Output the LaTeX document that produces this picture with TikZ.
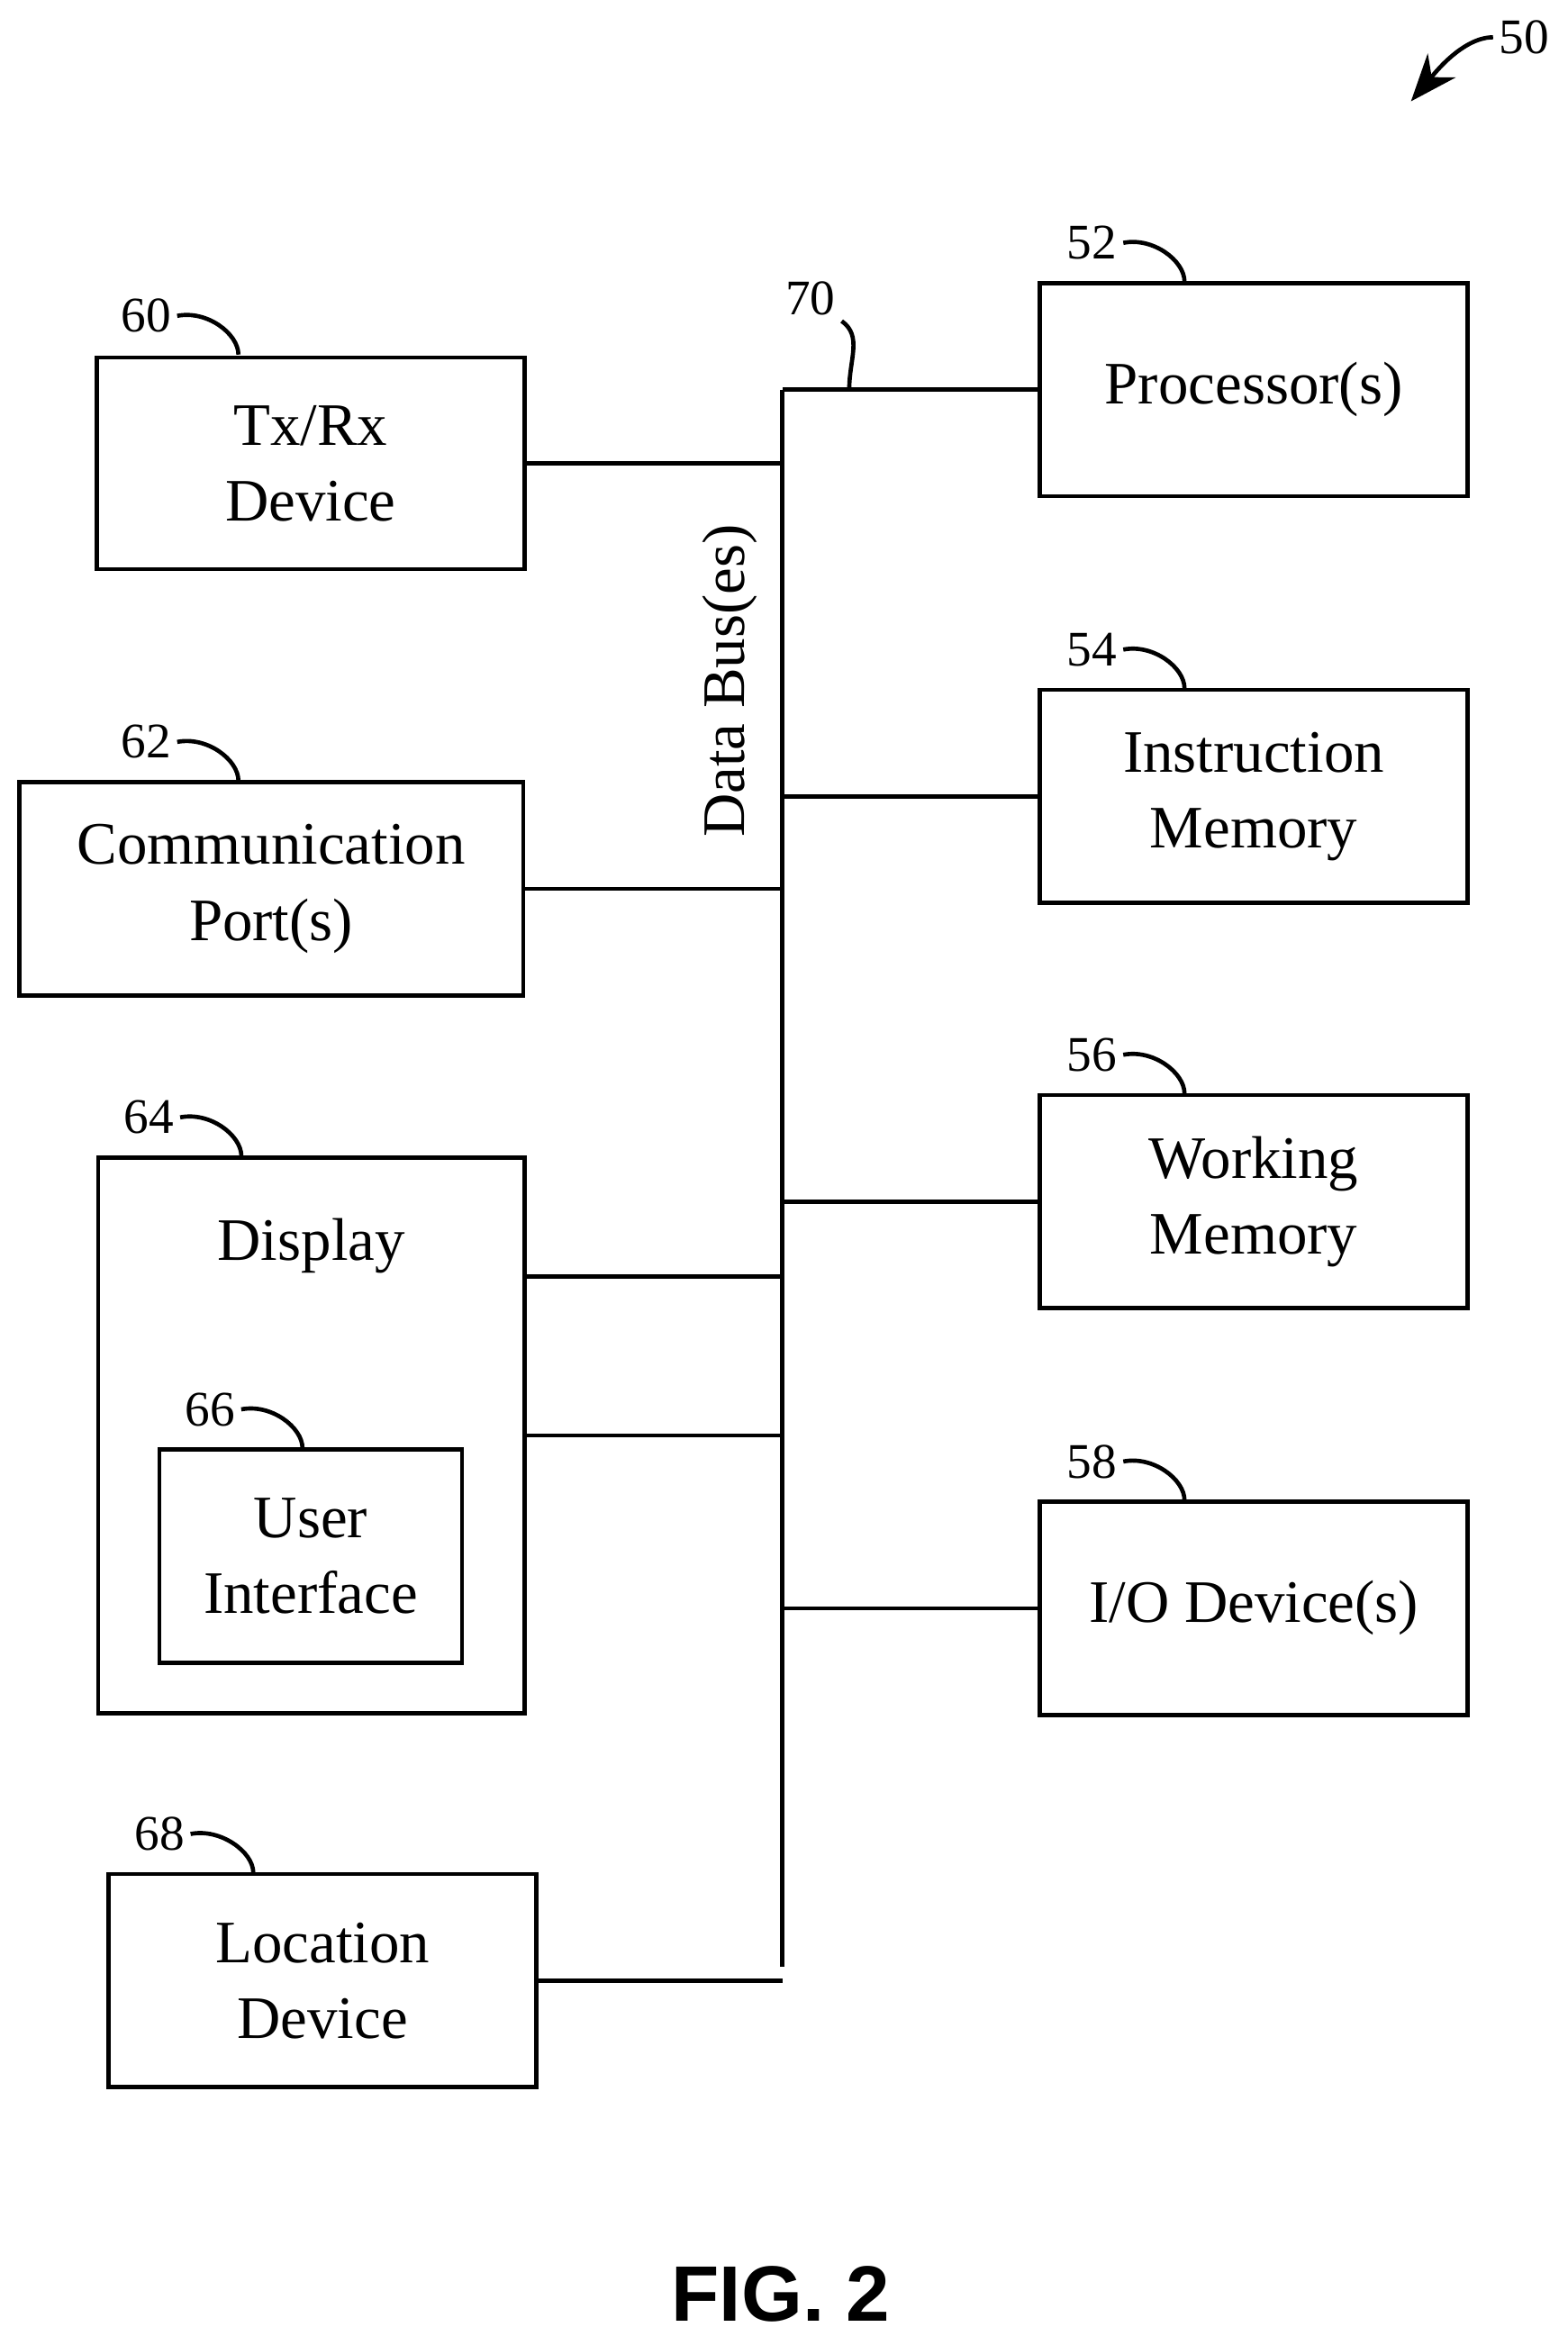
\documentclass[tikz,border=0pt]{standalone}
\usepackage{fontspec}
\setmainfont{Liberation Serif}
\newfontfamily\figfont{Liberation Sans}
\usetikzlibrary{arrows.meta}
\tikzset{
  blk/.style={draw,thick,align=center,font=\fontsize{11.5}{14.5}\selectfont,inner sep=0pt},
  ref/.style={font=\fontsize{9.5}{11}\selectfont,inner sep=1pt},
  lead/.style={thick},
  bus/.style={thick}
}
\begin{document}
\begin{tikzpicture}[x=0.01cm,y=-0.01cm]
\useasboundingbox (0,0) rectangle (1052,1568);

% left column
\node[blk,minimum width=2.87cm,minimum height=1.42cm] (txrx) at (208.5,311) {Tx/Rx\\Device};
\node[blk,minimum width=3.38cm,minimum height=1.43cm] (comm) at (182,596.5) {Communication\\Port(s)};
\node[blk,minimum width=2.86cm,minimum height=3.73cm] (disp) at (209,963.5) {};
\node[blk,draw=none] (disptxt) at (209,836) {Display};
\node[blk,minimum width=2.03cm,minimum height=1.43cm] (ui) at (208.5,1044.5) {User\\Interface};
\node[blk,minimum width=2.87cm,minimum height=1.43cm] (loc) at (216.5,1329.5) {Location\\Device};

% right column
\node[blk,minimum width=2.87cm,minimum height=1.43cm] (proc) at (841.5,261.5) {Processor(s)};
\node[blk,minimum width=2.87cm,minimum height=1.43cm] (imem) at (841.5,534.5) {Instruction\\Memory};
\node[blk,minimum width=2.87cm,minimum height=1.43cm] (wmem) at (841.5,806.5) {Working\\Memory};
\node[blk,minimum width=2.87cm,minimum height=1.43cm] (io) at (841.5,1079.5) {I/O Device(s)};

% data bus
\coordinate (btop) at (525,262);
\coordinate (bbot) at (525,1320);
\draw[bus] (btop) -- (bbot);
\node[blk,draw=none,rotate=90] (buslbl) at (490,457) {Data Bus(es)};
\foreach \n in {txrx,comm,disp,loc}
  \draw[bus] (\n.east |- \n.center) -- (btop |- \n.center);
\draw[bus] (disp.east |- 0,857) -- (btop |- 0,857);
\foreach \n in {proc,imem,wmem,io}
  \draw[bus] (\n.west) -- (btop |- \n.west);

% reference numerals
\node[ref] (r60) at (98,212) {60};
\node[ref] (r62) at (98,498) {62};
\node[ref] (r64) at (100,750) {64};
\node[ref] (r66) at (141,946) {66};
\node[ref] (r68) at (107,1231) {68};
\node[ref] (r52) at (733,163) {52};
\node[ref] (r54) at (733,436) {54};
\node[ref] (r56) at (733,708) {56};
\node[ref] (r58) at (733,981) {58};
\node[ref] (r70) at (544,200) {70};
\node[ref] (r50) at (1023,25) {50};
\foreach \r/\x/\y in {r60/160/238,r62/160/524,r64/162/776,r66/203/972,r68/170/1257,r52/795/189,r54/795/462,r56/795/734,r58/795/1007}
  \draw[lead] (\r.east) .. controls +(20,-4) and +(0,-14) .. (\x,\y);
\coordinate (c70) at (570,261);
\draw[lead] (r70.south east) .. controls +(14,10) and +(0,-20) .. (c70);
\coordinate (a50) at (947,68);
\draw[lead,-{Stealth[length=9pt,width=7pt]}] (r50.west) .. controls +(-22,0) and +(12,-14) .. (a50);

\node[font=\figfont\bfseries\fontsize{15}{18}\selectfont] (fig) at (524,1540) {FIG. 2};
\end{tikzpicture}
\end{document}
